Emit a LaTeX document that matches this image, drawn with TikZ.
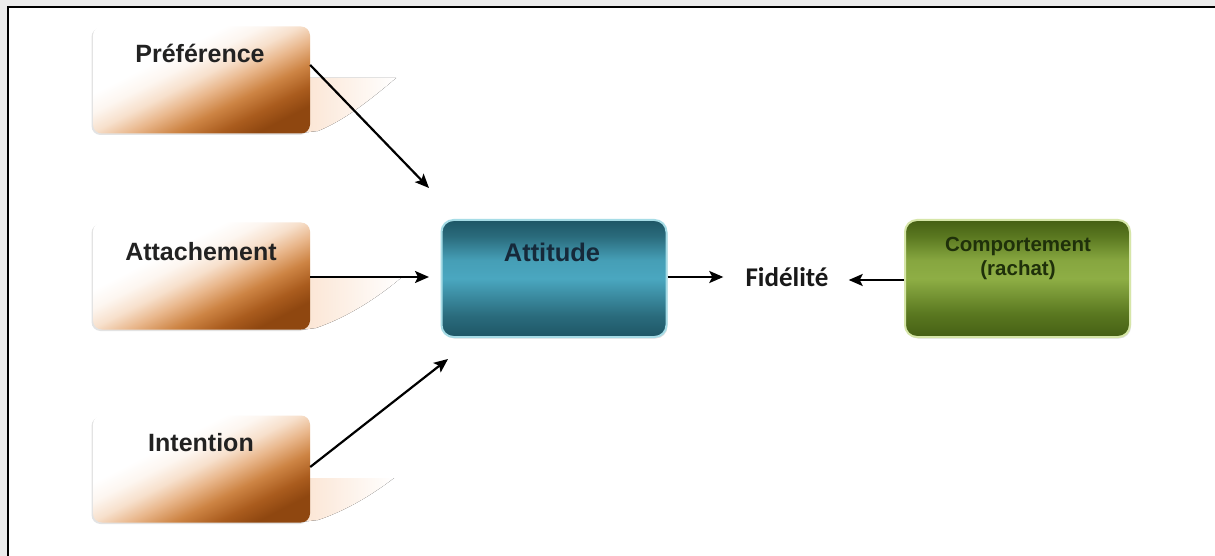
\documentclass[tikz,border=0pt]{standalone}
\usepackage{fontspec}
\setmainfont{Liberation Sans}
\newfontfamily\calfont{Carlito}
\usetikzlibrary{arrows.meta,shadows}

\definecolor{margingray}{HTML}{ECECEC}
\definecolor{brC}{HTML}{8F4710}
\definecolor{brB}{HTML}{AA5C1E}
\definecolor{brA}{HTML}{CD8444}
\definecolor{brP}{HTML}{E9B78C}
\definecolor{brQ}{HTML}{F7E0CC}
\definecolor{brR}{HTML}{FDF6F0}
\definecolor{peach}{HTML}{FBE4D2}
\definecolor{tlD}{HTML}{1E5666}
\definecolor{tlM}{HTML}{2A6B7C}
\definecolor{tlL}{HTML}{4AA7C0}
\definecolor{tlEdge}{HTML}{A6DCE6}
\definecolor{gnD}{HTML}{455F14}
\definecolor{gnM}{HTML}{5A7820}
\definecolor{gnL}{HTML}{8EAE45}
\definecolor{gnEdge}{HTML}{D6E6A8}
\definecolor{labelgray}{HTML}{222222}
\definecolor{attText}{HTML}{16293A}
\definecolor{cmpText}{HTML}{1F300A}

% diagonal white-to-brown face of the three source boxes
\pgfdeclareverticalshading{brownface}{100bp}{%
  color(0bp)=(brC); color(25bp)=(brC); color(31bp)=(brB);
  color(38bp)=(brA); color(45bp)=(brP); color(51bp)=(brQ);
  color(57bp)=(brR); color(63bp)=(white); color(100bp)=(white)}
% teal bar: dark top and bottom, lighter middle
\pgfdeclareverticalshading{tealface}{100bp}{%
  color(0bp)=(tlD); color(25bp)=(tlD); color(34bp)=(tlM);
  color(50bp)=(tlL); color(58bp)=(tlL!85!tlM); color(68bp)=(tlM);
  color(75bp)=(tlD); color(100bp)=(tlD)}
% olive bar: dark top and bottom, lighter middle
\pgfdeclareverticalshading{greenface}{100bp}{%
  color(0bp)=(gnD); color(25bp)=(gnD); color(35bp)=(gnM);
  color(50bp)=(gnL); color(58bp)=(gnL!85!gnM); color(68bp)=(gnM);
  color(75bp)=(gnD); color(100bp)=(gnD)}

\tikzset{
  srcbox/.style={rounded corners=9pt, minimum width=217pt, minimum height=107pt,
    inner sep=0pt, shade, shading=brownface, shading angle=27,
    drop shadow={shadow xshift=-1.5pt, shadow yshift=-1.5pt, opacity=0.18, fill=black!60}},
  srclabel/.style={font=\bfseries\fontsize{25}{30}\selectfont, text=labelgray, inner sep=0pt},
  tealbox/.style={rounded corners=12pt, minimum width=225pt, minimum height=117pt,
    inner sep=0pt, shade, shading=tealface, draw=tlEdge, line width=2pt,
    drop shadow={shadow xshift=1pt, shadow yshift=-1.5pt, opacity=0.25, fill=black!50}},
  greenbox/.style={rounded corners=12pt, minimum width=225pt, minimum height=117pt,
    inner sep=0pt, shade, shading=greenface, draw=gnEdge, line width=2pt,
    drop shadow={shadow xshift=1pt, shadow yshift=-1.5pt, opacity=0.25, fill=black!50}},
  reflect/.style={left color=peach, right color=white, draw=none},
  link/.style={line width=2.2pt, -{Stealth[length=14pt, width=12pt, inset=3pt]}}
}

\begin{document}
\begin{tikzpicture}[x=1pt, y=-1pt]
\useasboundingbox (0,0) rectangle (1215,556);
\fill[white] (0,0) rectangle (1215,556);
\fill[margingray] (0,0) rectangle (1215,6);
\fill[margingray] (0,0) rectangle (7,556);
\draw[line width=2pt] (8,556) -- (8,7) -- (1215,7);

% faint reflections trailing the source boxes
\fill[reflect] (300,78) -- (396,78) .. controls (370,100) and (345,120) .. (318,131) -- (300,133) -- cycle;
\fill[reflect] (300,277) -- (402,277) .. controls (375,300) and (345,318) .. (316,328) -- (300,330) -- cycle;
\fill[reflect] (300,478) -- (394,478) .. controls (368,498) and (342,512) .. (318,520) -- (300,522) -- cycle;

% source boxes
\node[srcbox] (pref) at (201.5,80) {};
\node[srcbox] (attach) at (201.5,276) {};
\node[srcbox] (intent) at (201.5,469) {};
\node[srclabel] (prefT) at (200,53) {Préférence};
\node[srclabel] (attachT) at (201,252) {Attachement};
\node[srclabel] (intentT) at (201,443) {Intention};

% attitude and behaviour boxes
\node[tealbox] (att) at (554,278.5) {};
\node[font=\bfseries\fontsize{25.5}{30}\selectfont, text=attText, inner sep=0pt] (attT) at (552,252) {Attitude};
\node[greenbox] (cmp) at (1017.5,278.5) {};
\node[font=\bfseries\fontsize{20.5}{25}\selectfont, text=cmpText, inner sep=0pt, align=center] (cmpT) at (1018,258)
  {Comportement\\[-1pt](rachat)};

% outcome
\node[font=\calfont\bfseries\fontsize{27}{32}\selectfont, text=black!90, inner sep=0pt] (fid) at (787,277) {Fidélité};

% free ends of the arrows pointing at the attitude box
\coordinate (attIn1) at (429,188);
\coordinate (attIn2) at (429,277);
\coordinate (attIn3) at (448,359);

\draw[link] ([yshift=15pt]pref.east) -- (attIn1);
\draw[link] ([yshift=-1pt]attach.east) -- (attIn2);
\draw[link] ([yshift=2pt]intent.east) -- (attIn3);
\draw[link] (att.east |- fid.west) -- ([xshift=-22pt]fid.west);
\draw[link] (cmp.west |- 0,280) -- ([xshift=20pt]fid.east |- 0,280);
\end{tikzpicture}
\end{document}
